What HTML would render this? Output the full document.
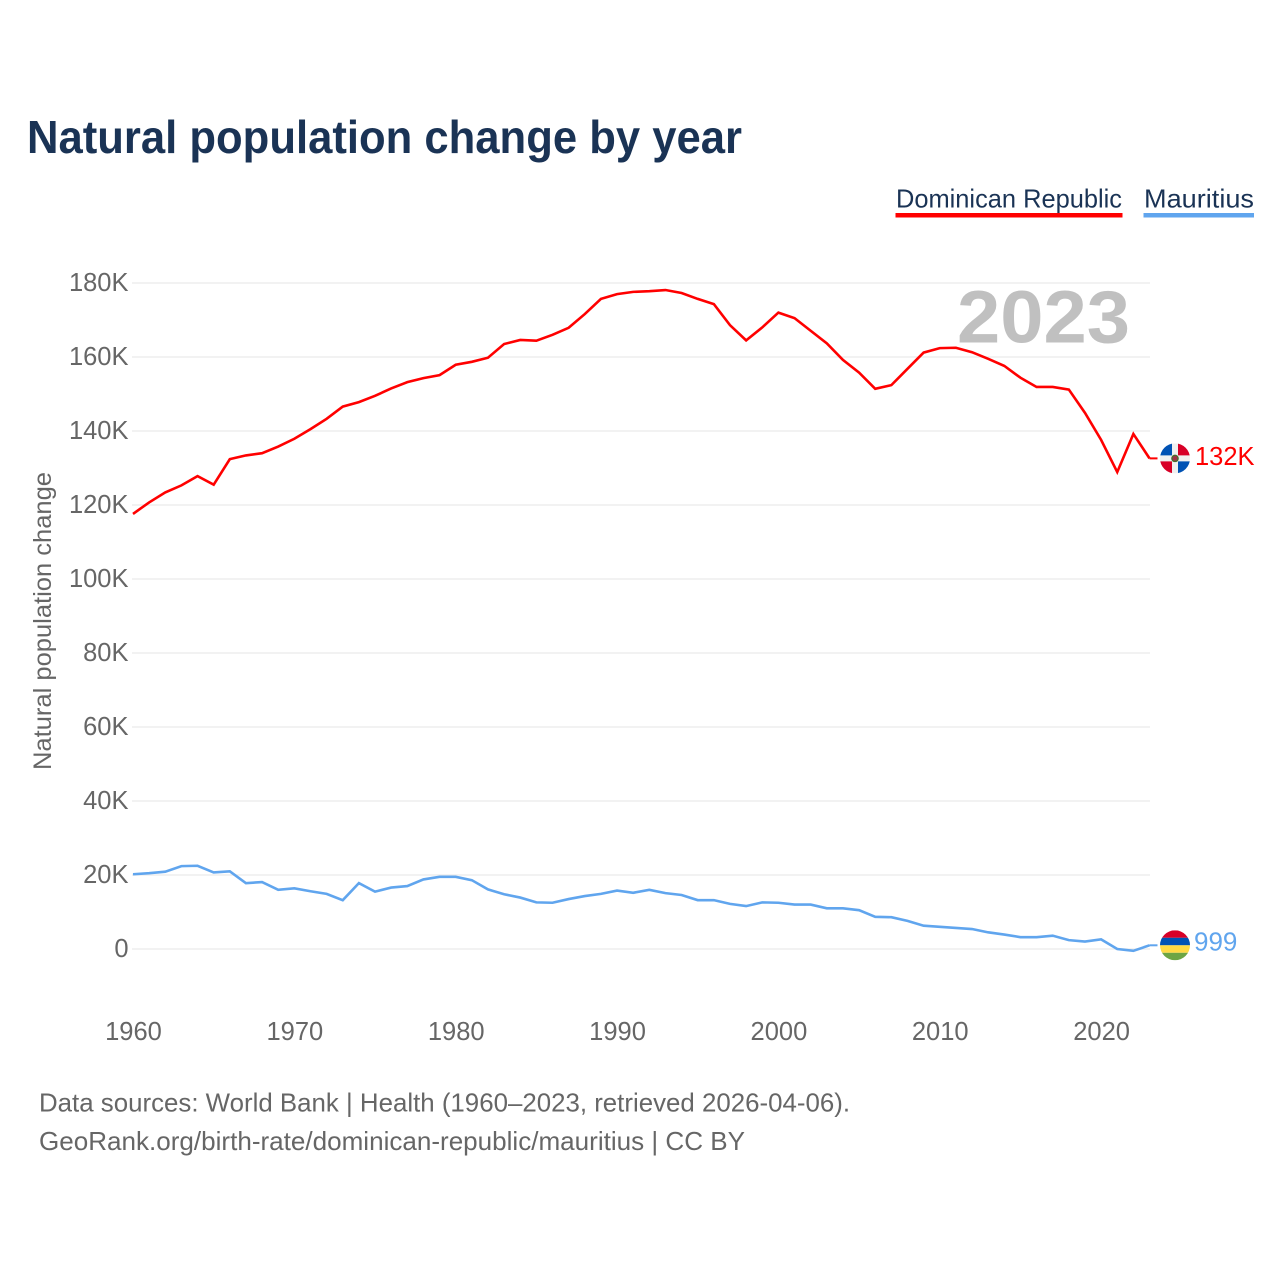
<!DOCTYPE html>
<html lang="en">
<head>
<meta charset="utf-8">
<title>Natural population change by year</title>
<style>
html,body{margin:0;padding:0;background:#fff;}
svg{display:block;font-family:"Liberation Sans",sans-serif;}
</style>
</head>
<body>
<svg id="chart" width="1280" height="1280" viewBox="0 0 1280 1280" xmlns="http://www.w3.org/2000/svg">
  <defs>
    <clipPath id="clip-flag"><circle cx="0" cy="0" r="15"></circle></clipPath>
  </defs>
  <rect x="0" y="0" width="1280" height="1280" fill="#ffffff"></rect>
  <text x="27" y="153" font-size="46" font-weight="700" fill="#1a3355" textLength="715" lengthAdjust="spacingAndGlyphs">Natural population change by year</text>

  <g style="cursor:pointer">
    <text x="896" y="207.5" font-size="26" fill="#1a3355" textLength="226" lengthAdjust="spacingAndGlyphs">Dominican Republic</text>
    <rect x="895.5" y="213" width="227" height="4.5" fill="#ff0000"></rect>
  </g>
  <g style="cursor:pointer">
    <text x="1144" y="207.5" font-size="26" fill="#1a3355" textLength="110" lengthAdjust="spacingAndGlyphs">Mauritius</text>
    <rect x="1143.5" y="213" width="110.5" height="4.5" fill="#60a5ee"></rect>
  </g>

  <g id="grid"></g>
  <g id="y-ticks"></g>
  <g id="x-ticks"></g>
  <text transform="translate(51,621) rotate(-90)" text-anchor="middle" font-size="25" fill="#666666" textLength="298" lengthAdjust="spacingAndGlyphs">Natural population change</text>
  <text x="957" y="342.5" font-size="74" font-weight="700" fill="#c0c0c0" textLength="173" lengthAdjust="spacingAndGlyphs">2023</text>

  <path id="line-dr" fill="none" stroke="#ff0000" stroke-width="2.6" stroke-linejoin="miter"></path>
  <path id="line-mu" fill="none" stroke="#60a5ee" stroke-width="2.6" stroke-linejoin="miter"></path>
  <line id="leader-dr" stroke="#ff0000" stroke-width="2"></line>
  <line id="leader-mu" stroke="#60a5ee" stroke-width="2"></line>

  <g id="flag-dr">
    <g clip-path="url(#clip-flag)">
      <rect x="-15" y="-15" width="30" height="30" fill="#f0f0f0"></rect>
      <rect x="-15" y="-15" width="12" height="12" fill="#0052b4"></rect>
      <rect x="3" y="-15" width="12" height="12" fill="#d80027"></rect>
      <rect x="-15" y="3" width="12" height="12" fill="#d80027"></rect>
      <rect x="3" y="3" width="12" height="12" fill="#0052b4"></rect>
      <circle cx="0" cy="0" r="3.8" fill="#496e2d"></circle>
      <circle cx="0" cy="0" r="2.4" fill="#a2324a"></circle>
    </g>
  </g>
  <g id="flag-mu">
    <g clip-path="url(#clip-flag)">
      <rect x="-15" y="-15" width="30" height="7.5" fill="#d80027"></rect>
      <rect x="-15" y="-7.5" width="30" height="7.5" fill="#0052b4"></rect>
      <rect x="-15" y="0" width="30" height="7.5" fill="#ffda44"></rect>
      <rect x="-15" y="7.5" width="30" height="7.5" fill="#6da544"></rect>
    </g>
  </g>
  <text id="value-dr" x="1195" y="465" font-size="25.5" fill="#ff0000">132K</text>
  <text id="value-mu" x="1194" y="951" font-size="26" fill="#60a5ee">999</text>

  <text x="39" y="1111.5" font-size="26" fill="#666666" textLength="811" lengthAdjust="spacingAndGlyphs">Data sources: World Bank | Health (1960–2023, retrieved 2026-04-06).</text>
  <text x="39" y="1150" font-size="26" fill="#666666" textLength="706" lengthAdjust="spacingAndGlyphs">GeoRank.org/birth-rate/dominican-republic/mauritius | CC BY</text>
</svg>
<script>
const years = [1960,1961,1962,1963,1964,1965,1966,1967,1968,1969,1970,1971,1972,1973,1974,1975,1976,1977,1978,1979,1980,1981,1982,1983,1984,1985,1986,1987,1988,1989,1990,1991,1992,1993,1994,1995,1996,1997,1998,1999,2000,2001,2002,2003,2004,2005,2006,2007,2008,2009,2010,2011,2012,2013,2014,2015,2016,2017,2018,2019,2020,2021,2022,2023];
const dominicanRepublic = [117.6,120.7,123.4,125.3,127.8,125.5,132.4,133.4,134.0,135.8,137.9,140.5,143.3,146.6,147.8,149.5,151.5,153.2,154.3,155.1,157.9,158.7,159.8,163.5,164.6,164.4,166.0,167.9,171.6,175.7,177.0,177.6,177.8,178.1,177.3,175.7,174.3,168.6,164.5,168.0,172.0,170.5,167.1,163.7,159.2,155.8,151.4,152.4,156.8,161.2,162.4,162.5,161.3,159.5,157.6,154.4,151.9,151.9,151.2,144.9,137.6,128.9,139.2,132.6];
const mauritius = [20.2,20.5,20.9,22.4,22.5,20.7,21.0,17.8,18.1,16.0,16.4,15.6,14.9,13.2,17.8,15.5,16.6,17.0,18.8,19.5,19.5,18.6,16.1,14.8,13.9,12.6,12.5,13.5,14.3,14.9,15.8,15.2,16.0,15.1,14.6,13.2,13.2,12.2,11.6,12.6,12.5,12.0,12.0,11.0,11.0,10.5,8.7,8.6,7.6,6.3,6.0,5.7,5.4,4.5,3.9,3.2,3.2,3.6,2.4,2.0,2.6,0.0,-0.5,1.0];
const yTickValues = [0,20,40,60,80,100,120,140,160,180];
const yTickLabels = ['0','20K','40K','60K','80K','100K','120K','140K','160K','180K'];
const xTickValues = [1960,1970,1980,1990,2000,2010,2020];
const xTickLabels = ['1960','1970','1980','1990','2000','2010','2020'];

const NS = 'http://www.w3.org/2000/svg';
function xScale(year) { return 133 + (year - 1960) * 16.135; }
function yScale(value) { return 949 - value * 3.7; }
function linePath(values) {
  return values.map(function (v, i) {
    return (i ? 'L' : 'M') + xScale(years[i]).toFixed(2) + ' ' + yScale(v).toFixed(2);
  }).join('');
}

const gridGroup = document.getElementById('grid');
const yGroup = document.getElementById('y-ticks');
const xGroup = document.getElementById('x-ticks');

yTickValues.forEach(function (v, i) {
  const g = document.createElementNS(NS, 'line');
  
  
  g.setAttribute('x1', 132);
  g.setAttribute('x2', 1150);
  g.setAttribute('y1', yScale(v));
  g.setAttribute('y2', yScale(v));
  g.setAttribute('stroke', '#eeeeee');
  g.setAttribute('stroke-width', '1.5');
  gridGroup.appendChild(g);

  const t = document.createElementNS(NS, 'text');
  
  
  t.setAttribute('x', 128.5);
  t.setAttribute('y', yScale(v) + 8);
  t.setAttribute('text-anchor', 'end');
  t.setAttribute('font-size', '25.5');
  t.setAttribute('fill', '#666666');
  t.textContent = yTickLabels[i];
  yGroup.appendChild(t);
});

xTickValues.forEach(function (v, i) {
  const t = document.createElementNS(NS, 'text');
  
  
  t.setAttribute('x', xScale(v) + 0.5);
  t.setAttribute('y', 1040);
  t.setAttribute('text-anchor', 'middle');
  t.setAttribute('font-size', '25.5');
  t.setAttribute('fill', '#666666');
  t.textContent = xTickLabels[i];
  xGroup.appendChild(t);
});

document.getElementById('line-dr').setAttribute('d', linePath(dominicanRepublic));
document.getElementById('line-mu').setAttribute('d', linePath(mauritius));

function placeEnd(values, key, labelOffset) {
  const last = values[values.length - 1];
  const lx = xScale(years[years.length - 1]);
  const ly = yScale(last);
  const leader = document.getElementById('leader-' + key);
  leader.setAttribute('x1', lx);
  leader.setAttribute('x2', lx + 8);
  leader.setAttribute('y1', ly);
  leader.setAttribute('y2', ly);
  document.getElementById('flag-' + key).setAttribute('transform', 'translate(1175,' + ly + ')');
  document.getElementById('value-' + key).setAttribute('y', ly + labelOffset);
}
placeEnd(dominicanRepublic, 'dr', 6.5);
placeEnd(mauritius, 'mu', 5);
</script>
</body>
</html>
